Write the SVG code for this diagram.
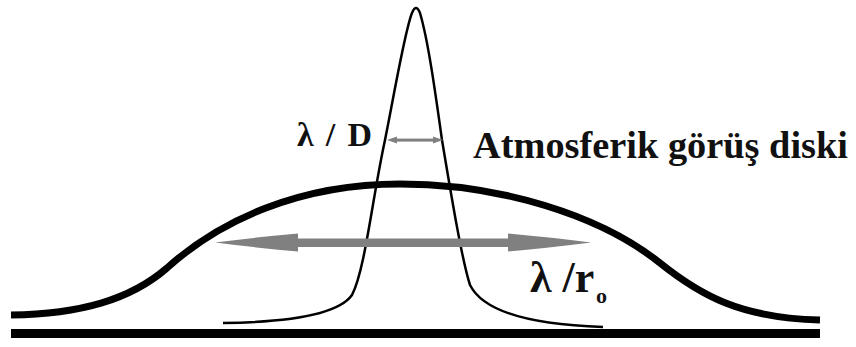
<svg xmlns="http://www.w3.org/2000/svg" width="856" height="347" viewBox="0 0 856 347">
<style>
.lbl{font-family:"Liberation Serif","Times New Roman",serif;font-weight:bold;fill:#111}
.gray{fill:#808080}
</style>
<rect width="856" height="347" fill="#fff"/>
<g id="ground"><rect x="11" y="329" width="809" height="9" fill="#000"/></g>
<g id="seeing-disk"><path d="M11,315 C80,314 130,300 167,268 C220,220 300,184 400,184 C500,184 600,215 660,263 C700,295 740,318 820,320" fill="none" stroke="#000" stroke-width="7"/></g>
<g id="diffraction-peak"><path d="M223,323 C300,322 340,312 352,295 C365,270 372,200 385,140 C395,90 405,30 412,13 Q416,3 420,13 C428,40 435,90 442,140 C452,200 462,260 470,285 C485,315 540,325 603,327" fill="none" stroke="#000" stroke-width="2.5"/></g>
<g id="connectors">
<g id="wide-arrow" class="gray">
<rect x="290" y="238.5" width="228" height="8.5"/>
<path d="M215,242.5 Q258,237 298,233.5 L298,251.5 Q258,248 215,242.5 Z"/>
<path d="M591,242.5 Q548,237 508,233.5 L508,251.5 Q548,248 591,242.5 Z"/>
</g>
<g id="narrow-arrow" class="gray">
<rect x="393" y="138.6" width="44" height="3"/>
<path d="M387,140 L397,136.5 L397,143.5 Z"/>
<path d="M443,140 L433,136.5 L433,143.5 Z"/>
</g>
</g>
<g id="labels">
<text class="lbl" x="297" y="146" font-size="34" textLength="75" lengthAdjust="spacing">λ / D</text>
<text class="lbl" x="473" y="158" font-size="37" textLength="375" lengthAdjust="spacingAndGlyphs">Atmosferik görüş diski</text>
<text class="lbl" x="530" y="292" font-size="44">λ /r</text>
<text class="lbl" x="596" y="303" font-size="22">o</text>
</g>
</svg>
